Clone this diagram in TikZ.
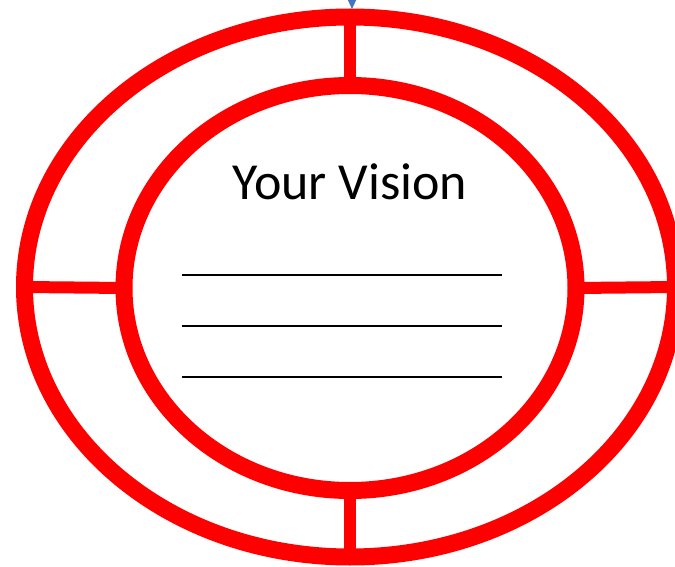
\documentclass[tikz,border=0pt]{standalone}
\usepackage{fontspec}
\setmainfont{Carlito}
\usetikzlibrary{shapes.geometric, arrows.meta, positioning}
\definecolor{ringred}{RGB}{255,0,0}
\definecolor{officeblue}{RGB}{68,114,196}
\tikzset{
  ring/.style={ellipse, draw=ringred, line width=17pt, outer sep=0pt,
               inner sep=0pt},
  spoke/.style={draw=ringred, line width=12pt},
  rule/.style={draw=black, line width=2.6pt},
  feedarr/.style={-{Triangle[width=8pt,length=9pt]}, draw=officeblue,
                  fill=officeblue, line width=1pt},
  title/.style={font=\fontsize{52}{62}\selectfont, inner sep=0pt},
}

\begin{document}
\begin{tikzpicture}[x=1pt, y=-1pt]
  \clip (0,0) rectangle (675,567);
  \useasboundingbox (0,0) rectangle (675,567);

  % incoming arrow at the top
  \coordinate (feed) at (352,-30);
  \coordinate (feedend) at (352,9);
  \draw[feedarr] (feed) -- (feedend);

  % the two rings
  \node[ring, minimum width=651pt, minimum height=540pt] (outer) at (350,287) {};
  \node[ring, minimum width=452pt, minimum height=405pt] (inner) at (350,288) {};

  % spokes joining them
  \draw[spoke] (outer.north) -- (inner.north);
  \draw[spoke] (outer.south) -- (inner.south);
  \draw[spoke] (outer.west) -- (inner.west);
  \draw[spoke] (outer.east) -- (inner.east);

  \node[title] (vision) at (350,182) {Your Vision};

  % writing lines
  \foreach \y in {275,326,377}
    \draw[rule] (182,\y) -- (502,\y);

\end{tikzpicture}
\end{document}
